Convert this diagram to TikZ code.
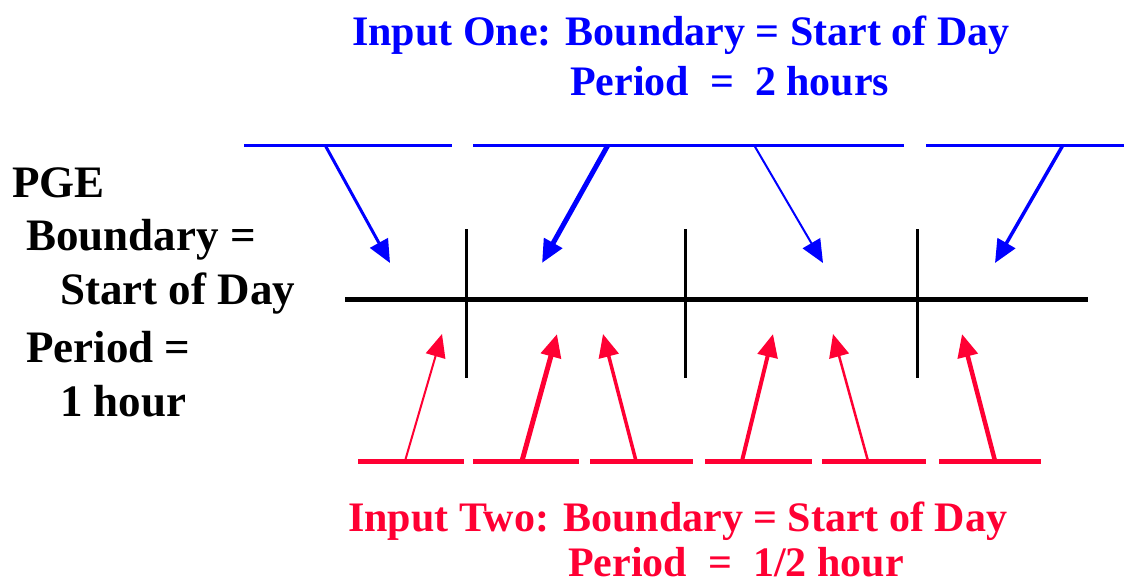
\documentclass[tikz,border=0pt]{standalone}
\usepackage{fontspec}
\setmainfont{Liberation Serif}
\usetikzlibrary{arrows.meta}
\definecolor{inblue}{RGB}{0,0,255}
\definecolor{inred}{RGB}{255,0,51}

\begin{document}
\begin{tikzpicture}[x=1pt, y=-1pt, >={Triangle[length=23pt,width=20pt]},
  lbl/.style={anchor=base west, inner sep=0pt, font=\bfseries\fontsize{42}{48}\selectfont},
  pgelbl/.style={anchor=base west, inner sep=0pt, font=\bfseries\fontsize{45}{52}\selectfont},
  onebar/.style={draw=inblue, line width=3pt},
  twobar/.style={draw=inred, line width=5pt}]
  \useasboundingbox (0,0) rectangle (1124,584);
  % Titles
  \node[lbl, text=inblue] (onetitle) at (352,45) {Input One: Boundary = Start of Day};
  \node[lbl, text=inblue] (oneperiod) at (570,95) {Period\ \ =\ \ 2 hours};
  \node[lbl, text=inred] (twotitle) at (348,531) {Input Two: Boundary = Start of Day};
  \node[lbl, text=inred] (twoperiod) at (568,576) {Period\ \ =\ \ 1/2 hour};
  % PGE description
  \node[pgelbl] (pge) at (12,197) {PGE};
  \node[pgelbl] (pgebound) at (26,250) {Boundary =};
  \node[pgelbl] (pgestart) at (60,304) {Start of Day};
  \node[pgelbl] (pgeperiod) at (26,362) {Period =};
  \node[pgelbl] (pgehour) at (60,416) {1 hour};
  % Time line with hour marks
  \draw[line width=5pt] (345,299) -- (1088,299);
  \draw[line width=3pt] (466,229) -- (466,378);
  \draw[line width=3pt] (685,229) -- (685,378);
  \draw[line width=3pt] (917,229) -- (917,378);
  % Input one periods
  \draw[onebar] (244,145) -- (452,145);
  \draw[onebar] (473,145) -- (904,145);
  \draw[onebar] (926,145) -- (1124,145);
  \coordinate (u1) at (325,145);  \coordinate (t1) at (390,263);
  \coordinate (u2) at (608,145);  \coordinate (t2) at (542,263);
  \coordinate (u3) at (754,145);  \coordinate (t3) at (823,263);
  \coordinate (u4) at (1063,145); \coordinate (t4) at (995,263);
  \draw[->, inblue, line width=3pt] (u1) -- (t1);
  \draw[->, inblue, line width=5pt] (u2) -- (t2);
  \draw[->, inblue, line width=2pt] (u3) -- (t3);
  \draw[->, inblue, line width=3.5pt] (u4) -- (t4);
  % Input two periods
  \draw[twobar] (358,461) -- (464,461);
  \draw[twobar] (473,461) -- (579,461);
  \draw[twobar] (590,461) -- (693,461);
  \draw[twobar] (705,461) -- (812,461);
  \draw[twobar] (822,461) -- (926,461);
  \draw[twobar] (939,461) -- (1041,461);
  \coordinate (d1) at (405,461); \coordinate (s1) at (442,334);
  \coordinate (d2) at (522,461); \coordinate (s2) at (557,334);
  \coordinate (d3) at (636,461); \coordinate (s3) at (603,334);
  \coordinate (d4) at (742,461); \coordinate (s4) at (773,334);
  \coordinate (d5) at (868,461); \coordinate (s5) at (833,334);
  \coordinate (d6) at (995,461); \coordinate (s6) at (962,334);
  \draw[->, inred, line width=2pt] (d1) -- (s1);
  \draw[->, inred, line width=5pt] (d2) -- (s2);
  \draw[->, inred, line width=3.5pt] (d3) -- (s3);
  \draw[->, inred, line width=4pt] (d4) -- (s4);
  \draw[->, inred, line width=2.5pt] (d5) -- (s5);
  \draw[->, inred, line width=4.5pt] (d6) -- (s6);
\end{tikzpicture}
\end{document}
